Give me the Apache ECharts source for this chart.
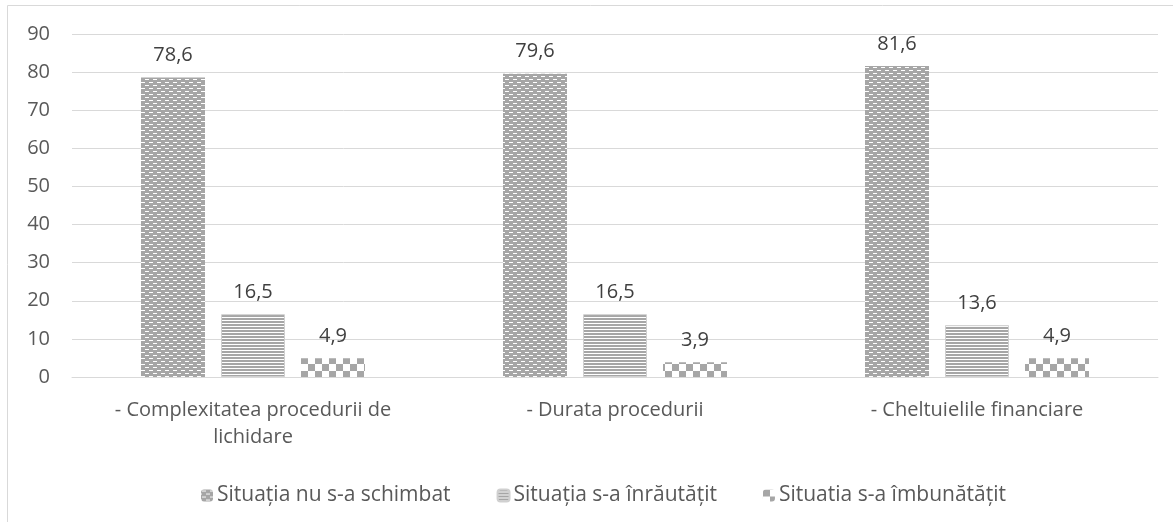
<!DOCTYPE html>
<html>
<head>
<meta charset="utf-8">
<script src="https://cdn.jsdelivr.net/npm/echarts@6/dist/echarts.min.js"></script>
<style>
  html, body { margin: 0; padding: 0; background: #fff; }
  #main { width: 1173px; height: 522px; }
</style>
</head>
<body>
<div id="main"></div>
<script>
// date
var categorii = ['- Complexitatea procedurii de\nlichidare', '- Durata procedurii', '- Cheltuielile financiare'];
var numeSerii = ['Situația nu s-a schimbat', 'Situația s-a înrăutățit', 'Situatia s-a îmbunătățit'];
var nuSchimbat = [78.6, 79.6, 81.6];
var inrautatit = [16.5, 16.5, 13.6];
var imbunatatit = [4.9, 3.9, 4.9];
var yTicks = { min: 0, max: 90, interval: 10 };

// texturi pentru bare (ca in Excel)
function patternCaramida() {
    var c = document.createElement('canvas');
    c.width = 8; c.height = 6;
    var ctx = c.getContext('2d');
    ctx.fillStyle = '#a6a6a6';
    ctx.fillRect(0, 0, 8, 6);
    ctx.fillStyle = '#ffffff';
    ctx.fillRect(1, 1, 4, 1);
    ctx.fillRect(5, 4, 4, 1);
    ctx.fillRect(0, 4, 1, 1);
    return c;
}
function patternLinii() {
    var c = document.createElement('canvas');
    c.width = 4; c.height = 3;
    var ctx = c.getContext('2d');
    ctx.fillStyle = '#ffffff';
    ctx.fillRect(0, 0, 4, 3);
    ctx.fillStyle = '#a6a6a6';
    ctx.fillRect(0, 0, 4, 2);
    return c;
}
function patternSah() {
    var c = document.createElement('canvas');
    c.width = 14; c.height = 14;
    var ctx = c.getContext('2d');
    ctx.fillStyle = '#ffffff';
    ctx.fillRect(0, 0, 14, 14);
    ctx.fillStyle = '#a6a6a6';
    ctx.fillRect(0, 0, 7, 7);
    ctx.fillRect(7, 7, 7, 7);
    return c;
}

function eticheta(v) {
    return String(v.value).replace('.', ',');
}

var myChart = echarts.init(document.getElementById('main'));
var fontFam = '"Open Sans", "Noto Sans", sans-serif';
var labelCfg = {
    show: true,
    position: 'top',
    distance: 12,
    color: '#404040',
    fontSize: 20,
    fontFamily: fontFam,
    formatter: eticheta
};

var option = {
    animation: false,
    textStyle: { fontFamily: fontFam },
    graphic: [{
        type: 'rect',
        shape: { x: 7.5, y: 5.5, width: 1200, height: 600 },
        style: { fill: 'none', stroke: '#d9d9d9', lineWidth: 1 },
        silent: true
    }],
    grid: { left: 72, right: 15, top: 34, bottom: 145 },
    legend: {
        top: 480,
        left: 196,
        itemWidth: 12,
        itemHeight: 12,
        itemGap: 46,
        textStyle: { color: '#595959', fontSize: 21, fontFamily: fontFam, padding: [0, 0, 0, -1] },
        data: numeSerii
    },
    xAxis: {
        type: 'category',
        data: categorii,
        axisLine: { lineStyle: { color: '#d9d9d9' } },
        axisTick: { show: false },
        axisLabel: { color: '#595959', fontSize: 20, margin: 20, lineHeight: 27, fontFamily: fontFam }
    },
    yAxis: {
        type: 'value',
        min: yTicks.min,
        max: yTicks.max,
        interval: yTicks.interval,
        axisLine: { show: false },
        axisTick: { show: false },
        splitLine: { lineStyle: { color: '#d9d9d9' } },
        axisLabel: { color: '#595959', fontSize: 20, margin: 22, fontFamily: fontFam }
    },
    series: [{
        name: numeSerii[0],
        type: 'bar',
        data: nuSchimbat,
        barWidth: 64,
        barGap: '25%',
        itemStyle: { color: { image: patternCaramida(), repeat: 'repeat' } },
        label: labelCfg
    }, {
        name: numeSerii[1],
        type: 'bar',
        data: inrautatit,
        barWidth: 64,
        itemStyle: { color: { image: patternLinii(), repeat: 'repeat' }, borderColor: '#d0d0d0', borderWidth: 1 },
        label: labelCfg
    }, {
        name: numeSerii[2],
        type: 'bar',
        data: imbunatatit,
        barWidth: 64,
        itemStyle: { color: { image: patternSah(), repeat: 'repeat' } },
        label: labelCfg
    }]
};
myChart.setOption(option);
</script>
</body>
</html>
